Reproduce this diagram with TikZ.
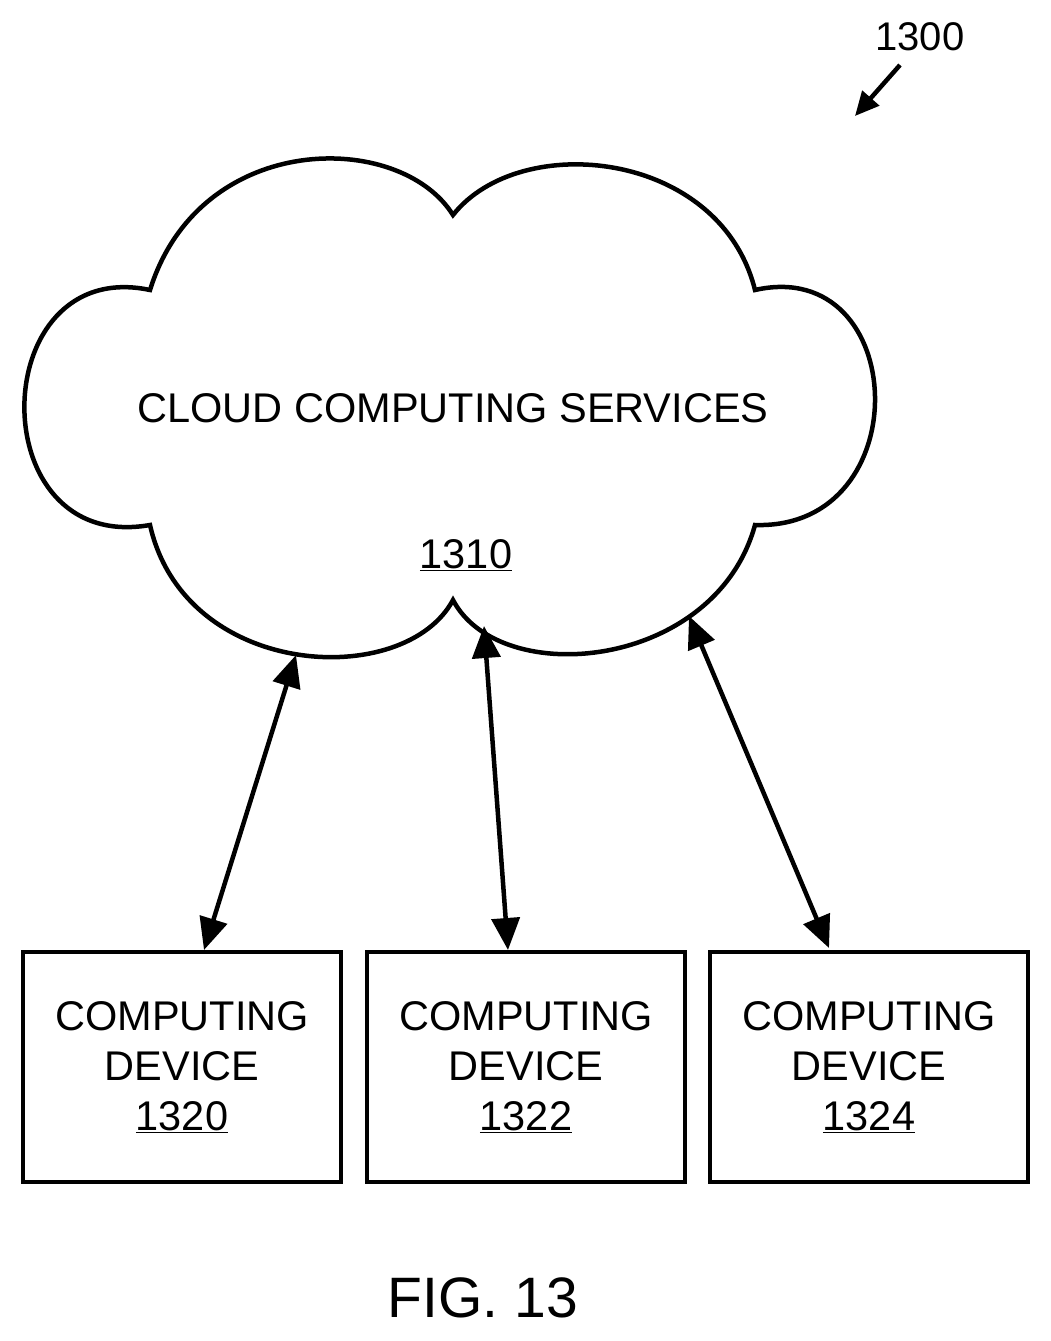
\documentclass[tikz,border=0pt]{standalone}
\usepackage{fontspec}
\setmainfont{Liberation Sans}
\usetikzlibrary{arrows.meta}
\begin{document}
\begin{tikzpicture}[x=1pt,y=-1pt,
  box/.style={draw,line width=3.5pt,minimum width=318pt,minimum height=230pt,align=center,font=\fontsize{41.5}{50}\selectfont},
  conn/.style={line width=4.5pt,{Triangle[length=32pt,width=28pt]}-{Triangle[length=32pt,width=28pt]}},
  lbl/.style={font=\fontsize{41.5}{48}\selectfont}]
\useasboundingbox (0,0) rectangle (1051,1341);
\draw[line width=4.5pt] (150,290) .. controls (200,130) and (400,130) .. (453,215)
 .. controls (520,130) and (720,150) .. (755,290)
 .. controls (910,255) and (920,530) .. (755,525)
 .. controls (715,670) and (500,690) .. (453,600)
 .. controls (405,690) and (185,680) .. (150,525)
 .. controls (-20,555) and (-15,255) .. (150,290) -- cycle;
\node[lbl] (cl) at (453,408) {CLOUD COMPUTING SERVICES};
\node[lbl] (cn) at (466,555) {\underline{1310}};
\node[box] (d1) at (182,1067) {COMPUTING\\DEVICE\\\underline{1320}};
\node[box] (d2) at (526,1067) {COMPUTING\\DEVICE\\\underline{1322}};
\node[box] (d3) at (869,1067) {COMPUTING\\DEVICE\\\underline{1324}};
\coordinate (c1) at (296,655);
\coordinate (c2) at (484,626);
\coordinate (c3) at (689,616);
\coordinate (e1) at (204,950);
\coordinate (e2) at (508,950);
\coordinate (e3) at (829,948);
\draw[conn] (c1) -- (e1);
\draw[conn] (c2) -- (e2);
\draw[conn] (c3) -- (e3);
\node[font=\fontsize{40}{46}\selectfont] (ref) at (920,37) {1300};
\coordinate (ra) at (855,116);
\draw[line width=4.5pt,-{Triangle[length=24pt,width=22pt]}] (900,65) -- (ra);
\node[font=\fontsize{57}{64}\selectfont] (fig) at (483,1298) {FIG. 13};
\end{tikzpicture}
\end{document}
